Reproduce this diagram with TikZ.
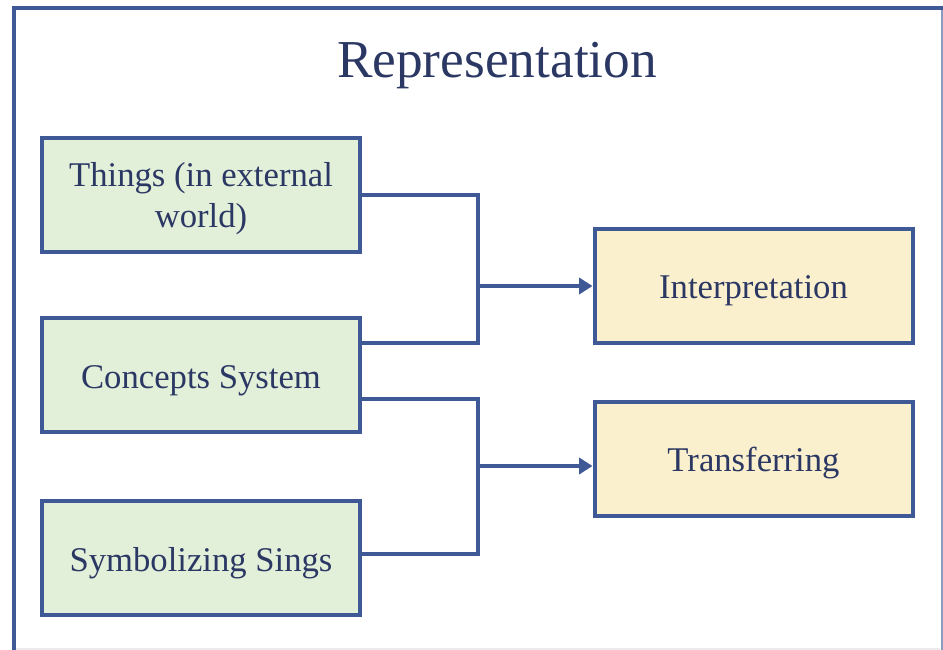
\documentclass[tikz,border=0pt]{standalone}
\usepackage{fontspec}
\setmainfont{Liberation Serif}
\usetikzlibrary{arrows.meta}

\definecolor{framblue}{RGB}{63,88,150}
\definecolor{inkblue}{RGB}{44,56,100}
\definecolor{leafgreen}{RGB}{226,239,217}
\definecolor{paleyellow}{RGB}{251,240,205}

\begin{document}
\begin{tikzpicture}[x=0.75pt,y=0.75pt,yscale=-1,xscale=1,
  srcbox/.style={draw=framblue,line width=3pt,fill=leafgreen,text=inkblue,
    minimum width=238.5pt,minimum height=85.5pt,align=center,
    text height=20pt,text depth=0pt,
    font=\fontsize{26}{31}\selectfont},
  resbox/.style={srcbox,fill=paleyellow},
  link/.style={draw=framblue,line width=3pt},
  arrow/.style={link,-{Triangle[length=10pt,width=12pt]}}]

\clip (0,0) rectangle (943,650);
\fill[white] (0,0) rectangle (943,650);

% frame
\draw[framblue,line width=3pt] (14,8) rectangle (952,660);
\draw[framblue!60,line width=1pt] (942,10) -- (942,650);
\draw[black!8,line width=1pt] (16,649) -- (940,649);

% title
\node[text=inkblue,font=\fontsize{40}{48}\selectfont] (title) at (497,66) {Representation};

% left part
\node[srcbox,text height=] (things) at (201,195) {Things (in external\\world)};
\node[srcbox] (concepts) at (201,375) {Concepts System};
\node[srcbox] (signs) at (201,558) {Symbolizing Sings};

% right part
\node[resbox] (interp) at (753.5,285.5) {Interpretation};
\node[resbox] (transf) at (753.5,458.5) {Transferring};

% joins
\coordinate (j1) at (478,286);
\coordinate (j2) at (478,466);

\draw[link] (things.east) -| (j1) |- (concepts.east |- 0,343);
\draw[arrow] (j1) -- (interp.west |- j1);

\draw[link] (concepts.east |- 0,399) -| (j2) |- (signs.east |- 0,554);
\draw[arrow] (j2) -- (transf.west |- j2);

\end{tikzpicture}
\end{document}
